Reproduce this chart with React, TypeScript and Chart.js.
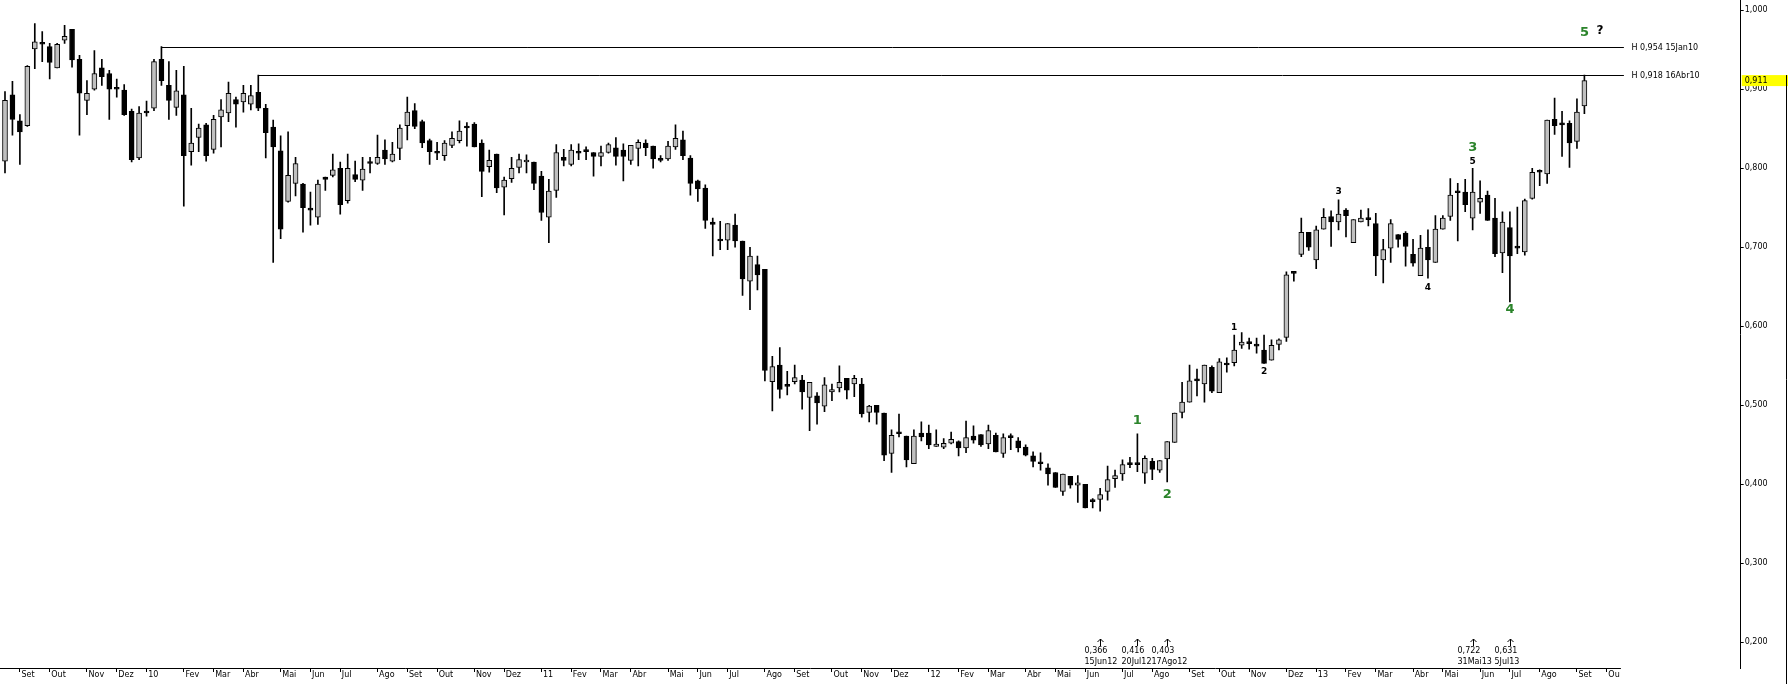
import { useEffect, useRef } from 'react';
import { Chart, registerables } from 'chart.js';

Chart.register(...registerables);

// Weekly candles, first bar dated Friday 21 Aug 2009
const startYear = 2009;
const startMonth = 7; // August (0-based)
const startDay = 21;

const opens = [
  0.809, 0.893, 0.860, 0.854, 0.951, 0.957, 0.954, 0.927, 0.962, 0.976,
  0.938, 0.886, 0.900, 0.927, 0.920, 0.900, 0.899, 0.872, 0.813, 0.870,
  0.876, 0.938, 0.905, 0.877, 0.893, 0.821, 0.839, 0.855, 0.824, 0.865,
  0.870, 0.887, 0.884, 0.881, 0.896, 0.876, 0.852, 0.822, 0.758, 0.781,
  0.780, 0.747, 0.738, 0.789, 0.791, 0.800, 0.759, 0.792, 0.785, 0.806,
  0.806, 0.823, 0.809, 0.825, 0.854, 0.873, 0.859, 0.835, 0.821, 0.816,
  0.829, 0.835, 0.851, 0.856, 0.832, 0.802, 0.818, 0.776, 0.787, 0.801,
  0.808, 0.808, 0.790, 0.738, 0.772, 0.814, 0.805, 0.819, 0.823, 0.820,
  0.815, 0.820, 0.826, 0.823, 0.810, 0.825, 0.832, 0.828, 0.812, 0.812,
  0.827, 0.836, 0.813, 0.784, 0.775, 0.732, 0.708, 0.709, 0.728, 0.708,
  0.657, 0.678, 0.672, 0.530, 0.551, 0.524, 0.530, 0.532, 0.510, 0.512,
  0.499, 0.517, 0.522, 0.534, 0.527, 0.527, 0.491, 0.500, 0.490, 0.439,
  0.464, 0.461, 0.426, 0.465, 0.465, 0.448, 0.447, 0.452, 0.454, 0.446,
  0.461, 0.463, 0.451, 0.462, 0.439, 0.459, 0.455, 0.447, 0.436, 0.426,
  0.421, 0.415, 0.391, 0.410, 0.399, 0.400, 0.378, 0.381, 0.391, 0.407,
  0.413, 0.425, 0.425, 0.414, 0.429, 0.418, 0.432, 0.453, 0.491, 0.504,
  0.531, 0.527, 0.548, 0.516, 0.551, 0.554, 0.576, 0.578, 0.575, 0.570,
  0.557, 0.577, 0.586, 0.667, 0.691, 0.719, 0.684, 0.723, 0.739, 0.732,
  0.747, 0.706, 0.732, 0.737, 0.730, 0.684, 0.699, 0.716, 0.718, 0.691,
  0.664, 0.700, 0.681, 0.723, 0.739, 0.769, 0.770, 0.737, 0.757, 0.766,
  0.737, 0.693, 0.725, 0.699, 0.694, 0.762, 0.795, 0.793, 0.862, 0.855,
  0.857, 0.834, 0.879,
];
const highs = [
  0.897, 0.910, 0.868, 0.930, 0.983, 0.973, 0.958, 0.958, 0.981, 0.976,
  0.943, 0.911, 0.949, 0.938, 0.924, 0.913, 0.906, 0.875, 0.878, 0.885,
  0.938, 0.954, 0.935, 0.924, 0.929, 0.876, 0.856, 0.857, 0.867, 0.887,
  0.909, 0.890, 0.905, 0.905, 0.918, 0.881, 0.861, 0.841, 0.846, 0.814,
  0.781, 0.770, 0.785, 0.789, 0.818, 0.808, 0.818, 0.809, 0.814, 0.814,
  0.842, 0.836, 0.833, 0.855, 0.890, 0.882, 0.861, 0.837, 0.833, 0.835,
  0.846, 0.860, 0.858, 0.858, 0.836, 0.823, 0.818, 0.789, 0.814, 0.818,
  0.817, 0.808, 0.796, 0.786, 0.830, 0.824, 0.830, 0.831, 0.827, 0.820,
  0.828, 0.832, 0.839, 0.831, 0.829, 0.836, 0.836, 0.828, 0.816, 0.834,
  0.855, 0.847, 0.816, 0.785, 0.779, 0.737, 0.733, 0.730, 0.742, 0.708,
  0.700, 0.689, 0.672, 0.562, 0.573, 0.543, 0.551, 0.538, 0.529, 0.516,
  0.535, 0.527, 0.550, 0.534, 0.538, 0.534, 0.500, 0.500, 0.490, 0.469,
  0.489, 0.461, 0.469, 0.479, 0.475, 0.469, 0.458, 0.466, 0.455, 0.480,
  0.474, 0.463, 0.475, 0.465, 0.464, 0.464, 0.459, 0.450, 0.441, 0.440,
  0.426, 0.415, 0.413, 0.410, 0.411, 0.400, 0.382, 0.395, 0.423, 0.418,
  0.431, 0.434, 0.464, 0.436, 0.433, 0.430, 0.454, 0.490, 0.529, 0.551,
  0.546, 0.551, 0.550, 0.559, 0.560, 0.589, 0.592, 0.585, 0.585, 0.589,
  0.583, 0.584, 0.669, 0.668, 0.737, 0.719, 0.727, 0.749, 0.746, 0.760,
  0.749, 0.735, 0.747, 0.749, 0.743, 0.710, 0.735, 0.716, 0.720, 0.710,
  0.715, 0.722, 0.740, 0.740, 0.787, 0.781, 0.786, 0.800, 0.784, 0.771,
  0.762, 0.745, 0.745, 0.751, 0.761, 0.800, 0.798, 0.861, 0.889, 0.872,
  0.860, 0.888, 0.918,
];
const lows = [
  0.794, 0.842, 0.805, 0.853, 0.926, 0.935, 0.913, 0.927, 0.958, 0.928,
  0.842, 0.868, 0.899, 0.905, 0.862, 0.890, 0.867, 0.808, 0.811, 0.866,
  0.873, 0.905, 0.862, 0.867, 0.752, 0.804, 0.821, 0.809, 0.819, 0.827,
  0.859, 0.852, 0.871, 0.874, 0.873, 0.813, 0.681, 0.711, 0.757, 0.765,
  0.719, 0.728, 0.729, 0.772, 0.789, 0.742, 0.756, 0.783, 0.772, 0.794,
  0.805, 0.805, 0.808, 0.811, 0.836, 0.850, 0.826, 0.805, 0.811, 0.810,
  0.826, 0.832, 0.828, 0.827, 0.764, 0.795, 0.769, 0.741, 0.782, 0.794,
  0.794, 0.773, 0.734, 0.706, 0.763, 0.803, 0.803, 0.811, 0.811, 0.790,
  0.803, 0.819, 0.804, 0.784, 0.805, 0.803, 0.816, 0.800, 0.808, 0.810,
  0.824, 0.811, 0.766, 0.758, 0.724, 0.689, 0.697, 0.697, 0.700, 0.639,
  0.621, 0.646, 0.531, 0.493, 0.509, 0.513, 0.527, 0.495, 0.468, 0.476,
  0.492, 0.506, 0.517, 0.508, 0.511, 0.485, 0.479, 0.476, 0.430, 0.415,
  0.460, 0.422, 0.426, 0.455, 0.445, 0.448, 0.445, 0.451, 0.436, 0.440,
  0.452, 0.448, 0.445, 0.441, 0.434, 0.444, 0.441, 0.436, 0.422, 0.418,
  0.399, 0.396, 0.386, 0.395, 0.377, 0.370, 0.370, 0.366, 0.380, 0.396,
  0.405, 0.421, 0.416, 0.401, 0.406, 0.415, 0.403, 0.453, 0.484, 0.504,
  0.512, 0.504, 0.516, 0.516, 0.542, 0.550, 0.572, 0.571, 0.566, 0.553,
  0.557, 0.570, 0.581, 0.657, 0.688, 0.696, 0.673, 0.723, 0.701, 0.722,
  0.713, 0.706, 0.732, 0.727, 0.664, 0.655, 0.681, 0.700, 0.676, 0.676,
  0.664, 0.661, 0.681, 0.723, 0.734, 0.708, 0.745, 0.722, 0.743, 0.734,
  0.688, 0.668, 0.631, 0.692, 0.690, 0.761, 0.778, 0.781, 0.843, 0.815,
  0.801, 0.825, 0.869,
];
const closes = [
  0.886, 0.862, 0.846, 0.929, 0.960, 0.957, 0.934, 0.957, 0.967, 0.937,
  0.895, 0.895, 0.920, 0.916, 0.900, 0.900, 0.868, 0.811, 0.870, 0.870,
  0.935, 0.911, 0.886, 0.898, 0.816, 0.832, 0.851, 0.816, 0.862, 0.874,
  0.895, 0.881, 0.895, 0.892, 0.876, 0.845, 0.827, 0.723, 0.791, 0.806,
  0.750, 0.747, 0.780, 0.786, 0.798, 0.754, 0.800, 0.786, 0.799, 0.806,
  0.814, 0.812, 0.818, 0.851, 0.871, 0.853, 0.832, 0.821, 0.819, 0.832,
  0.838, 0.847, 0.851, 0.827, 0.796, 0.810, 0.775, 0.785, 0.800, 0.811,
  0.810, 0.781, 0.744, 0.771, 0.820, 0.810, 0.823, 0.819, 0.821, 0.815,
  0.820, 0.830, 0.815, 0.815, 0.829, 0.833, 0.826, 0.812, 0.810, 0.828,
  0.838, 0.816, 0.781, 0.774, 0.734, 0.729, 0.708, 0.730, 0.708, 0.660,
  0.689, 0.665, 0.544, 0.549, 0.520, 0.524, 0.535, 0.517, 0.529, 0.503,
  0.526, 0.520, 0.529, 0.519, 0.534, 0.489, 0.499, 0.491, 0.437, 0.462,
  0.464, 0.431, 0.461, 0.460, 0.450, 0.451, 0.452, 0.457, 0.446, 0.459,
  0.456, 0.450, 0.468, 0.441, 0.459, 0.459, 0.446, 0.437, 0.429, 0.426,
  0.413, 0.396, 0.413, 0.399, 0.402, 0.370, 0.378, 0.387, 0.406, 0.411,
  0.425, 0.425, 0.425, 0.433, 0.419, 0.430, 0.454, 0.490, 0.504, 0.531,
  0.531, 0.551, 0.518, 0.555, 0.551, 0.570, 0.580, 0.578, 0.575, 0.553,
  0.576, 0.583, 0.665, 0.667, 0.719, 0.700, 0.722, 0.738, 0.732, 0.742,
  0.740, 0.735, 0.737, 0.735, 0.689, 0.697, 0.730, 0.710, 0.701, 0.680,
  0.699, 0.684, 0.723, 0.737, 0.766, 0.769, 0.754, 0.770, 0.762, 0.734,
  0.692, 0.732, 0.689, 0.699, 0.759, 0.795, 0.795, 0.861, 0.854, 0.855,
  0.832, 0.871, 0.911,
];

const monthAbbr = ['Jan', 'Fev', 'Mar', 'Abr', 'Mai', 'Jun', 'Jul', 'Ago', 'Set', 'Out', 'Nov', 'Dez'];
const yTickValues = [0.2, 0.3, 0.4, 0.5, 0.6, 0.7, 0.8, 0.9, 1.0];

// Highs marked with horizontal lines (candle indices)
const highLineIdx = [21, 34];
// Lows marked with arrows under the chart (candle indices)
const lowMarkerIdx = [147, 152, 156, 197, 202];
// Wave count labels
const waveLabels = [
  { i: 152, text: '1', tone: 'green', at: 'high', dy: -13, dx: 0 },
  { i: 156, text: '2', tone: 'green', at: 'low', dy: 13, dx: 0 },
  { i: 197, text: '3', tone: 'green', at: 'high', dy: -21, dx: 0 },
  { i: 202, text: '4', tone: 'green', at: 'low', dy: 7.5, dx: 0 },
  { i: 212, text: '5', tone: 'green', at: 'high', dy: -42, dx: 0 },
  { i: 212, text: '?', tone: 'black-big', at: 'high', dy: -44, dx: 15.5 },
  { i: 165, text: '1', tone: 'black', at: 'high', dy: -7, dx: 0 },
  { i: 169, text: '2', tone: 'black', at: 'low', dy: 8.5, dx: 0 },
  { i: 179, text: '3', tone: 'black', at: 'high', dy: -8.5, dx: 0 },
  { i: 191, text: '4', tone: 'black', at: 'low', dy: 9.5, dx: 0 },
  { i: 197, text: '5', tone: 'black', at: 'high', dy: -6.6, dx: 0 },
];

const X_MIN = -0.67;
const X_MAX = 232.98;
const AXIS_END = 216.9;
const Y_MIN = 0.1675;
const Y_MAX = 1.013;
const FONT = 'DejaVu Sans';

function dateOf(i: number) {
  return new Date(Date.UTC(startYear, startMonth, startDay) + i * 7 * 86400000);
}
function fmtVal(v: number) {
  return v.toFixed(3).replace('.', ',');
}
function fmtDate(i: number) {
  const d = dateOf(i);
  return `${d.getUTCDate()}${monthAbbr[d.getUTCMonth()]}${String(d.getUTCFullYear() % 100).padStart(2, '0')}`;
}

function monthTicks() {
  const out: { i: number; label: string }[] = [];
  for (let i = 1; i <= AXIS_END; i++) {
    const a = dateOf(i - 1);
    const b = dateOf(i);
    if (a.getUTCMonth() !== b.getUTCMonth()) {
      const m = b.getUTCMonth();
      let label = m === 0 ? String(b.getUTCFullYear() % 100).padStart(2, '0') : monthAbbr[m];
      if ((AXIS_END - i) * 7.45 < 16) label = label.slice(0, 2);
      out.push({ i, label });
    }
  }
  return out;
}

export default function App() {
  const ref = useRef<HTMLCanvasElement | null>(null);

  useEffect(() => {
    document.body.style.margin = '0';
    const canvas = ref.current;
    if (!canvas) return;
    const n = closes.length;
    const ticks = monthTicks();
    const labelMap: Record<number, string> = {};
    ticks.forEach((t) => (labelMap[t.i] = t.label));

    const wickData = closes.map((_, i) => ({ x: i, y: [lows[i], highs[i]] }));
    const bodyData = closes.map((c, i) => ({ x: i, y: [opens[i], c] }));
    const bodyColors = closes.map((c, i) => (c > opens[i] ? '#c0c0c0' : '#000000'));

    const overlay = {
      id: 'overlay',
      afterDatasetsDraw(chart: any) {
        const ctx = chart.ctx;
        const xs = chart.scales.x;
        const ys = chart.scales.y;
        const area = chart.chartArea;
        ctx.save();
        // horizontal high lines
        ctx.strokeStyle = '#000';
        ctx.lineWidth = 1;
        ctx.fillStyle = '#000';
        ctx.font = `8px "${FONT}"`;
        ctx.textBaseline = 'middle';
        ctx.textAlign = 'left';
        const xEnd = xs.getPixelForValue(AXIS_END) + 3;
        highLineIdx.forEach((i) => {
          const y = Math.round(ys.getPixelForValue(highs[i])) + 0.5;
          const x0 = xs.getPixelForValue(i);
          ctx.beginPath();
          ctx.moveTo(Math.round(x0) + 0.5, y);
          ctx.lineTo(xEnd, y);
          ctx.stroke();
          ctx.fillText(`H ${fmtVal(highs[i])} ${fmtDate(i)}`, xEnd + 7.5, y);
        });
        // wave labels
        ctx.textAlign = 'center';
        waveLabels.forEach((w) => {
          const v = w.at === 'high' ? highs[w.i] : lows[w.i];
          const x = xs.getPixelForValue(w.i) + w.dx;
          const y = ys.getPixelForValue(v) + w.dy;
          if (w.tone === 'green') {
            ctx.fillStyle = '#2b842b';
            ctx.font = `bold 13px "${FONT}"`;
          } else if (w.tone === 'black-big') {
            ctx.fillStyle = '#000';
            ctx.font = `bold 12px "${FONT}"`;
          } else {
            ctx.fillStyle = '#000';
            ctx.font = `bold 9px "${FONT}"`;
          }
          ctx.fillText(w.text, x, y);
        });
        // low markers below chart
        ctx.fillStyle = '#000';
        ctx.font = `8px "${FONT}"`;
        ctx.textAlign = 'left';
        const base = area.bottom;
        lowMarkerIdx.forEach((i) => {
          const x = Math.round(xs.getPixelForValue(i)) + 0.5;
          ctx.beginPath();
          ctx.moveTo(x, base - 29);
          ctx.lineTo(x, base - 22);
          ctx.moveTo(x - 3, base - 26);
          ctx.lineTo(x, base - 29);
          ctx.lineTo(x + 3, base - 26);
          ctx.stroke();
          ctx.fillText(fmtVal(lows[i]), x - 16, base - 17);
          ctx.fillText(fmtDate(i), x - 16, base - 6);
        });
        ctx.restore();
      },
      afterDraw(chart: any) {
        const ctx = chart.ctx;
        const xs = chart.scales.x;
        const ys = chart.scales.y;
        const area = chart.chartArea;
        ctx.save();
        ctx.strokeStyle = '#000';
        ctx.lineWidth = 1;
        // bottom axis line
        const yb = Math.round(area.bottom) + 0.5;
        ctx.beginPath();
        ctx.moveTo(area.left, yb);
        ctx.lineTo(xs.getPixelForValue(AXIS_END), yb);
        ctx.stroke();
        // last price box
        const last = closes[closes.length - 1];
        const yl = ys.getPixelForValue(last);
        ctx.fillStyle = '#ffff00';
        ctx.fillRect(area.right + 1, yl - 5.5, chart.width - area.right - 1, 11);
        ctx.fillStyle = '#000';
        ctx.font = `8px "${FONT}"`;
        ctx.textAlign = 'left';
        ctx.textBaseline = 'middle';
        ctx.fillText(fmtVal(last), area.right + 4, yl);
        // right edge line
        ctx.beginPath();
        ctx.moveTo(chart.width - 1.5, yl - 5.5);
        ctx.lineTo(chart.width - 1.5, chart.height);
        ctx.stroke();
        ctx.restore();
      },
    };

    const chart = new Chart(canvas, {
      type: 'bar',
      data: {
        datasets: [
          {
            label: 'wick',
            data: wickData as any,
            backgroundColor: '#000',
            barThickness: 1,
            grouped: false,
            order: 2,
          },
          {
            label: 'body',
            data: bodyData as any,
            backgroundColor: bodyColors,
            borderColor: '#000',
            borderWidth: 1,
            borderSkipped: false,
            barThickness: 5,
            minBarLength: 2,
            grouped: false,
            order: 1,
          },
        ],
      },
      options: {
        responsive: false,
        animation: false,
        devicePixelRatio: 1,
        events: [],
        layout: { padding: 0 },
        plugins: { legend: { display: false }, tooltip: { enabled: false } },
        scales: {
          x: {
            type: 'linear',
            min: X_MIN,
            max: X_MAX,
            offset: false,
            afterFit: (s: any) => {
              s.height = 16;
              s.paddingLeft = 0;
              s.paddingRight = 0;
            },
            afterBuildTicks: (s: any) => {
              s.ticks = ticks.map((t) => ({ value: t.i }));
            },
            ticks: {
              callback: (v: any) => '\u2009' + (labelMap[v] ?? ''),
              align: 'start',
              autoSkip: false,
              maxRotation: 0,
              minRotation: 0,
              padding: -2,
              color: '#000',
              font: { family: FONT, size: 8 },
            },
            grid: { drawOnChartArea: false, drawTicks: true, tickLength: 4, color: '#000', offset: false },
            border: { display: false },
          },
          y: {
            type: 'linear',
            position: 'right',
            min: Y_MIN,
            max: Y_MAX,
            afterFit: (s: any) => {
              s.width = 47.3;
              s.paddingTop = 0;
              s.paddingBottom = 0;
            },
            afterBuildTicks: (s: any) => {
              s.ticks = yTickValues.map((v) => ({ value: v }));
            },
            ticks: {
              callback: (v: any) => fmtVal(Number(v)),
              padding: 1,
              color: '#000',
              font: { family: FONT, size: 8 },
            },
            grid: { drawOnChartArea: false, drawTicks: true, tickLength: 3, color: '#000' },
            border: { display: true, color: '#000', width: 1 },
          },
        },
      },
      plugins: [overlay],
    });
    return () => chart.destroy();
  }, []);

  return (
    <div style={{ width: 1788, height: 684, background: '#fff' }}>
      <canvas ref={ref} width={1788} height={684} style={{ display: 'block', width: 1788, height: 684 }} />
    </div>
  );
}
